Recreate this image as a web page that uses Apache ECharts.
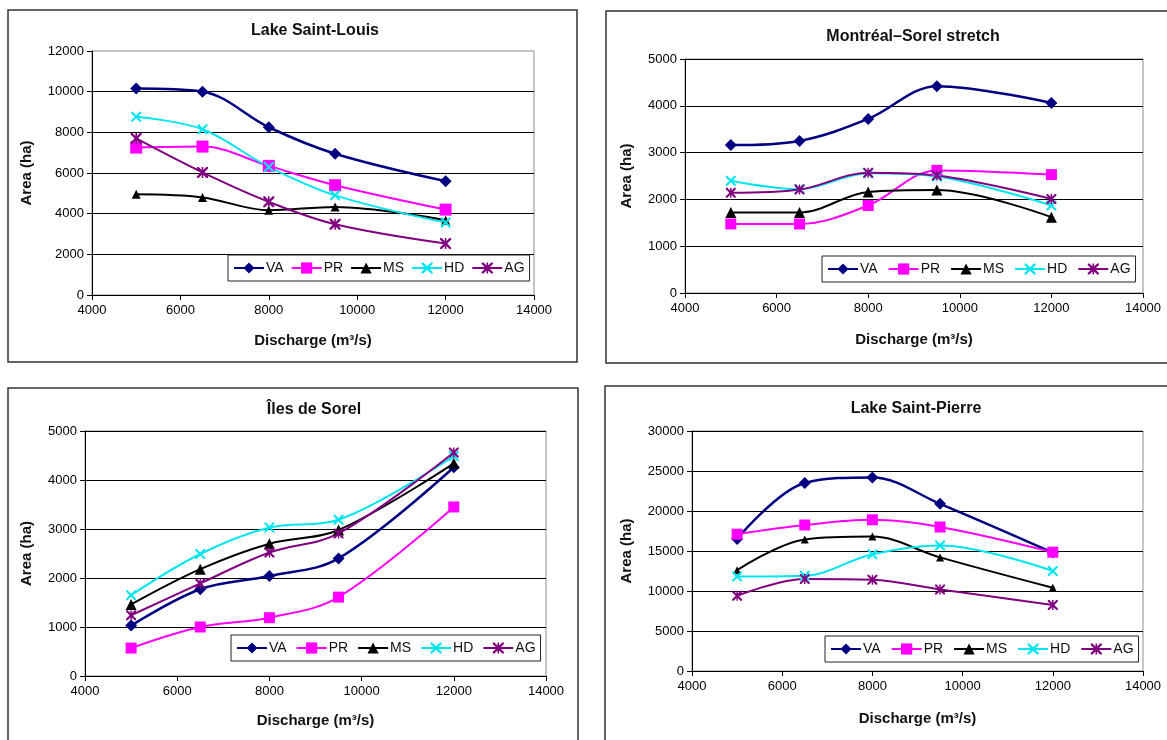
<!DOCTYPE html>
<html>
<head>
<meta charset="utf-8">
<script src="https://cdn.jsdelivr.net/npm/echarts@6/dist/echarts.min.js"></script>
<style>
html,body{margin:0;padding:0;background:#fff;}
#chart{width:1167px;height:740px;}
</style>
</head>
<body>
<div id="chart"></div>
<script>
// ---- data ----
const discharge = [5000, 6500, 8000, 9500, 12000];
const seriesNames = ['VA', 'PR', 'MS', 'HD', 'AG'];
const xTicks = [4000, 6000, 8000, 10000, 12000, 14000];

const panelTitles = ['Lake Saint-Louis', 'Montréal–Sorel stretch', 'Îles de Sorel', 'Lake Saint-Pierre'];
const yAxisTitle = 'Area (ha)';
const xAxisTitle = 'Discharge (m³/s)';

const lslVA = [10150, 10000, 8250, 6950, 5600];
const lslPR = [7250, 7300, 6350, 5400, 4200];
const lslMS = [4950, 4800, 4170, 4330, 3680];
const lslHD = [8770, 8150, 6300, 4900, 3560];
const lslAG = [7700, 6030, 4580, 3480, 2530];

const msVA = [3160, 3250, 3720, 4420, 4060];
const msPR = [1475, 1475, 1870, 2620, 2530];
const msMS = [1720, 1720, 2160, 2200, 1620];
const msHD = [2400, 2220, 2560, 2490, 1870];
const msAG = [2140, 2210, 2570, 2510, 2010];

const isVA = [1030, 1770, 2040, 2400, 4260];
const isPR = [570, 1000, 1190, 1610, 3450];
const isMS = [1460, 2180, 2700, 2980, 4340];
const isHD = [1650, 2490, 3030, 3190, 4490];
const isAG = [1240, 1890, 2520, 2910, 4560];

const lspVA = [16500, 23500, 24200, 20900, 14800];
const lspPR = [17100, 18250, 18900, 18000, 14850];
const lspMS = [12600, 16450, 16800, 14200, 10400];
const lspHD = [11800, 11900, 14600, 15700, 12500];
const lspAG = [9400, 11500, 11400, 10200, 8250];

const yMax = [12000, 5000, 5000, 30000];
const yInterval = [2000, 1000, 1000, 5000];

const panelData = [
  [lslVA, lslPR, lslMS, lslHD, lslAG],
  [msVA, msPR, msMS, msHD, msAG],
  [isVA, isPR, isMS, isHD, isAG],
  [lspVA, lspPR, lspMS, lspHD, lspAG]
];

// ---- styles ----
const FONT = '"Liberation Sans", Arial, sans-serif';
const colors = ['#000080', '#ff00ff', '#000000', '#00e5ee', '#800080'];
const xPath = 'path://M0,0 L1.5,0 L5,3.5 L8.5,0 L10,0 L10,1.5 L6.5,5 L10,8.5 L10,10 L8.5,10 L5,6.5 L1.5,10 L0,10 L0,8.5 L3.5,5 L0,1.5 Z';
const starPath = 'path://M0,0 L1.5,0 L5,3.5 L8.5,0 L10,0 L10,1.5 L6.5,5 L10,8.5 L10,10 L8.5,10 L5,6.5 L1.5,10 L0,10 L0,8.5 L3.5,5 L0,1.5 Z M4.3,0 L5.7,0 L5.7,10 L4.3,10 Z';
const symbols = ['diamond', 'rect', 'triangle', xPath, starPath];
const symbolSizes = [[12, 12, 9, 10, 11], [12, 11, 11, 10, 10], [12, 11, 11, 10, 10], [12, 11, 8, 10, 10]];
const lineWidths = [2.5, 2, 2, 2, 2];

const grids = [
  {left: 92, top: 51, width: 442, height: 244},
  {left: 685, top: 59, width: 458, height: 234},
  {left: 85, top: 431, width: 461, height: 245},
  {left: 692, top: 431, width: 451, height: 240}
];
const legendPos = [
  {left: 228, top: 255},
  {left: 822, top: 256},
  {left: 231, top: 635},
  {left: 825, top: 636}
];
const legendGaps = [7, 10, 9, 10];
const titlePos = [[315, 31], [913, 37], [314, 410], [916, 409]];
const yNameGap = [58, 51, 51, 58];
const xNameGap = [38, 39, 37, 40];
const borders = [
  {x: 8, y: 10, width: 569, height: 352},
  {x: 606, y: 11, width: 600, height: 352},
  {x: 8, y: 388, width: 570, height: 400},
  {x: 605, y: 386, width: 600, height: 400}
];

const option = {
  backgroundColor: '#fff',
  animation: false,
  grid: [], xAxis: [], yAxis: [], legend: [], series: [], graphic: []
};

for (let p = 0; p < 4; p++) {
  option.grid.push(Object.assign({show: true, borderColor: '#8c8c8c', borderWidth: 1, backgroundColor: '#fff'}, grids[p]));
  option.xAxis.push({
    type: 'value', gridIndex: p, min: xTicks[0], max: xTicks[xTicks.length - 1], interval: 2000,
    name: xAxisTitle, nameLocation: 'middle', nameGap: xNameGap[p],
    nameTextStyle: {fontFamily: FONT, fontWeight: 'bold', fontSize: 15, color: '#111'},
    axisLine: {show: true, onZero: false, lineStyle: {color: '#000', width: 1}},
    axisTick: {show: true, length: 5, lineStyle: {color: '#000'}},
    axisLabel: {fontFamily: FONT, fontSize: 13, color: '#000', margin: 9, formatter: v => String(v)},
    splitLine: {show: false}
  });
  option.yAxis.push({
    type: 'value', gridIndex: p, min: 0, max: yMax[p], interval: yInterval[p],
    name: yAxisTitle, nameLocation: 'middle', nameGap: yNameGap[p], nameRotate: 90,
    nameTextStyle: {fontFamily: FONT, fontWeight: 'bold', fontSize: 15, color: '#111'},
    axisLine: {show: true, lineStyle: {color: '#000', width: 1}},
    axisTick: {show: true, length: 5, lineStyle: {color: '#000'}},
    axisLabel: {fontFamily: FONT, fontSize: 13, color: '#000', margin: 8, formatter: v => String(v)},
    splitLine: {show: true, showMaxLine: p === 0 ? false : true, showMinLine: false, lineStyle: {color: '#000', width: 1}}
  });
  option.legend.push(Object.assign({
    id: 'lg' + p,
    data: seriesNames.map(n => ({name: n})),
    orient: 'horizontal',
    itemWidth: 30, itemHeight: 14, itemGap: legendGaps[p],
    padding: [6, 5, 6, 5],
    borderColor: '#222', borderWidth: 1, backgroundColor: '#fff',
    textStyle: {fontFamily: FONT, fontSize: 14, color: '#111', padding: [0, 0, 0, -3]},
    selectedMode: false
  }, legendPos[p]));
  option.graphic.push({
    type: 'rect', shape: borders[p], silent: true, z: -1,
    style: {fill: 'none', stroke: '#333', lineWidth: 1.5}
  });
  option.graphic.push({
    type: 'text', x: titlePos[p][0], y: titlePos[p][1], silent: true,
    style: {text: panelTitles[p], fontFamily: FONT, fontWeight: 'bold', fontSize: 16, fill: '#111',
            textAlign: 'center', textVerticalAlign: 'middle'}
  });
  for (let s = 0; s < 5; s++) {
    option.series.push({
      type: 'line', name: seriesNames[s], xAxisIndex: p, yAxisIndex: p,
      data: discharge.map((x, i) => [x, panelData[p][s][i]]),
      smooth: 0.35,
      symbol: symbols[s], symbolSize: symbolSizes[p][s],
      color: colors[s],
      lineStyle: {color: colors[s], width: lineWidths[s]},
      itemStyle: {color: colors[s]}
    });
  }
}

const chart = echarts.init(document.getElementById('chart'), null, {renderer: 'canvas'});
chart.setOption(option);
</script>
</body>
</html>
